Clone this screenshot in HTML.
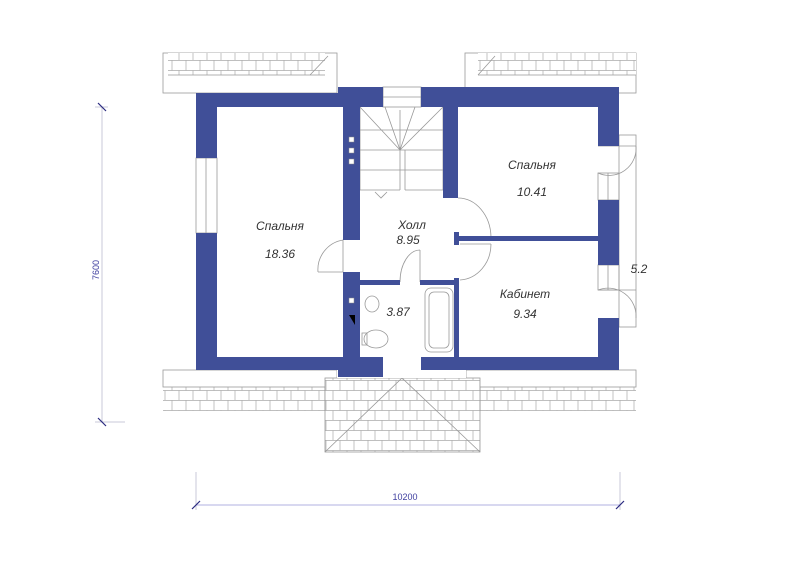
<!DOCTYPE html>
<html><head><meta charset="utf-8"><style>
html,body{margin:0;padding:0;background:#fff;}
svg{display:block;}
text{font-family:"Liberation Sans",sans-serif;}
.lbl{font-style:italic;font-size:12px;fill:#333;}
</style></head><body>
<svg width="800" height="566" viewBox="0 0 800 566" xmlns="http://www.w3.org/2000/svg">
<defs>
<pattern id="br" width="14" height="20" patternUnits="userSpaceOnUse">
<rect width="14" height="20" fill="#fff"/>
<path d="M0 0.5H14M0 10.5H14M4 0V10.5M11 10.5V20" stroke="#aaa" stroke-width="0.7" fill="none"/>
</pattern>
</defs>
<g fill="none" stroke="#999" stroke-width="0.8">
<rect x="163" y="53" width="174" height="40" fill="#fff"/>
<rect x="168" y="53" width="157" height="22" fill="url(#br)" stroke="none"/>
<line x1="168" y1="75" x2="325" y2="75"/>
<line x1="310" y1="75" x2="328" y2="56"/>
<rect x="465" y="53" width="171" height="40" fill="#fff"/>
<rect x="478" y="53" width="158" height="22" fill="url(#br)" stroke="none"/>
<line x1="478" y1="75" x2="636" y2="75"/>
<line x1="478" y1="75" x2="495" y2="56"/>
<rect x="163" y="387" width="162" height="24" fill="url(#br)" stroke="none"/>
<rect x="163" y="370" width="174" height="17" fill="#fff"/>
<rect x="480" y="387" width="156" height="24" fill="url(#br)" stroke="none"/>
<rect x="466" y="370" width="170" height="17" fill="#fff"/>
<line x1="325" y1="387" x2="325" y2="411"/><line x1="480" y1="387" x2="480" y2="411"/>
<rect x="325" y="378" width="155" height="74" fill="url(#br)"/>
<path d="M325 452L402 378L480 452"/>
<rect x="337" y="370" width="129" height="8" fill="#fff" stroke="none"/>
<rect x="619" y="135" width="17" height="192" fill="#fff"/>
<rect x="383" y="87" width="38" height="20"/>
<line x1="383" y1="97" x2="421" y2="97"/>
<path d="M360 107V190H400M400 190V110M360 130H443M360 150H443M360 170H443M400 150L360 107M400 150L385 107M400 150L415 107M400 150L443 107M405 190H443V107M405 150V190"/>
<path d="M375 192L381 198L387 192"/>
<rect x="196" y="158" width="21" height="75"/><line x1="206" y1="158" x2="206" y2="233"/>
<rect x="598" y="173" width="21" height="27"/><line x1="608" y1="173" x2="608" y2="200"/>
<rect x="598" y="265" width="21" height="25"/><line x1="608" y1="265" x2="608" y2="290"/>
<path d="M598 146H636 M598 173A27 27 0 0 0 636 146" />
<path d="M598 290H636 M636 318A28 28 0 0 0 598 290"/>
<path d="M318 272H343V240 M318 272A30 30 0 0 1 343 240"/>
<path d="M458 198A33 40 0 0 1 491 237 M458 237H491"/>
<path d="M460 244H491 M491 244A33 36 0 0 1 460 280"/>
<path d="M420 250V282 M420 250A20 32 0 0 0 400 282"/>
<rect x="425" y="288" width="28" height="64" rx="6"/>
<rect x="429" y="292" width="20" height="56" rx="5"/>
<ellipse cx="372" cy="304" rx="7" ry="8"/>
<ellipse cx="376" cy="339" rx="12" ry="9"/>
<rect x="362" y="333" width="5" height="12"/>
</g>
<g fill="#404f98">
<rect x="196" y="93" width="142" height="14"/>
<rect x="338" y="87" width="45" height="20"/>
<rect x="421" y="87" width="198" height="20"/>
<rect x="196" y="93" width="21" height="65"/>
<rect x="196" y="233" width="21" height="137"/>
<rect x="598" y="87" width="21" height="59"/>
<rect x="598" y="200" width="21" height="65"/>
<rect x="598" y="318" width="21" height="52"/>
<rect x="196" y="357" width="187" height="13"/>
<rect x="338" y="357" width="45" height="20"/>
<rect x="421" y="357" width="198" height="13"/>
<rect x="343" y="107" width="17" height="133"/>
<rect x="443" y="107" width="15" height="91"/>
<rect x="343" y="272" width="17" height="85"/>
<rect x="360" y="280" width="40" height="5"/>
<rect x="420" y="280" width="39" height="5"/>
<rect x="454" y="278" width="5" height="79"/>
<rect x="455" y="236" width="143" height="5"/>
<rect x="454" y="232" width="5" height="13"/>
</g>
<g fill="#fff" stroke="#888" stroke-width="0.5">
<rect x="349" y="137" width="5" height="5"/><rect x="349" y="148" width="5" height="5"/><rect x="349" y="159" width="5" height="5"/>
<rect x="349" y="298" width="5" height="5"/>
</g>
<path d="M349 315H355V325Z" fill="#000"/>
<text class="lbl" x="280" y="230" text-anchor="middle">Спальня</text>
<text class="lbl" x="280" y="258" text-anchor="middle">18.36</text>
<text class="lbl" x="412" y="229" text-anchor="middle">Холл</text>
<text class="lbl" x="408" y="244" text-anchor="middle">8.95</text>
<text class="lbl" x="532" y="169" text-anchor="middle">Спальня</text>
<text class="lbl" x="532" y="196" text-anchor="middle">10.41</text>
<text class="lbl" x="525" y="298" text-anchor="middle">Кабинет</text>
<text class="lbl" x="525" y="318" text-anchor="middle">9.34</text>
<text class="lbl" x="398" y="316" text-anchor="middle">3.87</text>
<text class="lbl" x="639" y="273" text-anchor="middle">5.2</text>
<g stroke="#c8c8d8" stroke-width="1">
<line x1="102" y1="107" x2="102" y2="422"/><line x1="95" y1="422" x2="125" y2="422"/><line x1="95" y1="107" x2="108" y2="107"/>
<line x1="196" y1="472" x2="196" y2="510"/><line x1="620" y1="472" x2="620" y2="510"/>
</g>
<line x1="196" y1="505" x2="620" y2="505" stroke="#b0b0e0"/>
<g stroke="#2a2a80" stroke-width="1.2">
<line x1="98" y1="103" x2="106" y2="111"/><line x1="98" y1="418" x2="106" y2="426"/>
<line x1="192" y1="509" x2="200" y2="501"/><line x1="616" y1="509" x2="624" y2="501"/>
</g>
<text x="96" y="270" font-size="9" fill="#4040a0" text-anchor="middle" transform="rotate(-90 96 270)" dy="3">7600</text>
<text x="405" y="500" font-size="9" fill="#4040a0" text-anchor="middle">10200</text>
</svg>
</body></html>
